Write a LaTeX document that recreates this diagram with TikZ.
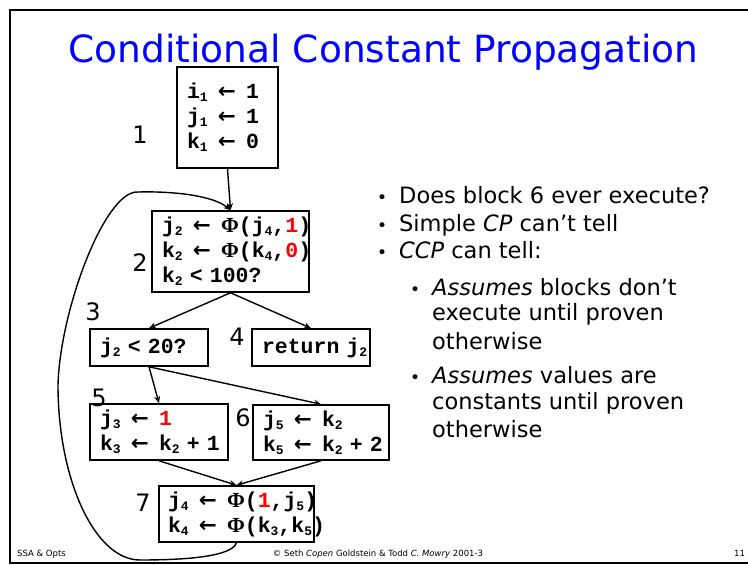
\documentclass[tikz,border=0pt]{standalone}
\usepackage{fontspec}
\setmainfont{DejaVu Sans}
\newfontfamily\codefont{Liberation Mono}[WordSpace={1,0,0}]
\newfontfamily\symfont{DejaVu Sans}
\newfontfamily\greekfont{Liberation Serif}
\usepackage{xcolor}
\usetikzlibrary{arrows.meta, positioning}
\newcommand{\asg}{\kern3pt{\symfont\bfseries ←}\kern3pt}
\newcommand{\Phifn}{{\greekfont\bfseries Φ}}
\newcommand{\ix}[1]{\raisebox{-3pt}{\fontsize{13pt}{13pt}\selectfont #1}}
\newcommand{\cst}[1]{\textcolor{red}{#1}}
\newcommand{\bul}{\llap{\fontsize{17pt}{17pt}\selectfont •\hspace{12pt}}}

\begin{document}
\begin{tikzpicture}[
      x=1pt, y=-1pt,
      blk/.style={draw, line width=1.6pt, inner xsep=10pt, inner ysep=0pt, align=left,
                  font=\codefont\bfseries\fontsize{21.5pt}{25pt}\selectfont},
      num/.style={inner sep=0pt, font=\fontsize{24pt}{24pt}\selectfont},
      txt/.style={anchor=base west, inner sep=0pt, font=\fontsize{22.5pt}{27pt}\selectfont},
      foot/.style={anchor=base, inner sep=0pt, font=\fontsize{8.5pt}{10pt}\selectfont},
      arr/.style={-{Stealth[length=7pt, width=6pt]}, line width=1.4pt}
    ]
    \useasboundingbox (0,0) rectangle (748,565);
    \draw[line width=2pt] (9.5,9.5) rectangle (790,562.5);

    \node[anchor=base, inner sep=0pt, text=blue, font=\fontsize{37.5pt}{40pt}\selectfont]
      (title) at (383.5,62) {Conditional Constant Propagation};

    % basic blocks
    \node[blk, text width=81pt, minimum height=101pt] (entry) at (227.5,117.5)
      {i\ix1~\asg~1\\j\ix1~\asg~1\\k\ix1~\asg~0};
    \node[blk, text width=137pt, minimum height=81pt] (head) at (230.5,251.5)
      {j\ix2~\asg~\Phifn(j\ix4,\cst1)\\k\ix2~\asg~\Phifn(k\ix4,\cst0)\\k\ix2~<~100?};
    \node[blk, text width=98pt, minimum height=37pt] (test) at (149,347.5)
      {j\ix2~<~20?};
    \node[blk, text width=98pt, minimum height=37pt] (ret) at (311,347.5)
      {return~j\ix2};
    \node[blk, text width=118pt, minimum height=56pt] (thn) at (159,432)
      {j\ix3~\asg~\cst1\\k\ix3~\asg~k\ix2~+~1};
    \node[blk, text width=116pt, minimum height=55pt] (els) at (321,432.5)
      {j\ix5~\asg~k\ix2\\k\ix5~\asg~k\ix2~+~2};
    \node[blk, text width=137pt, minimum height=56pt, inner xsep=9pt] (join) at (236.5,514)
      {j\ix4~\asg~\Phifn(\cst1,j\ix5)\\k\ix4~\asg~\Phifn(k\ix3,k\ix5)};

    % block numbers
    \node[num] (n1) at (140,135) {1};
    \node[num] (n2) at (140,263) {2};
    \node[num] (n3) at (93,312) {3};
    \node[num] (n4) at (237,337) {4};
    \node[num] (n5) at (99,398) {5};
    \node[num] (n6) at (243,418) {6};
    \node[num] (n7) at (143,503) {7};

    % control flow
    \draw[arr] (entry.south) -- (head.north);
    \draw[arr] (head.south) -- (test.north);
    \draw[arr] (head.south) -- (ret.north);
    \draw[arr] (test.south) -- (thn.north);
    \draw[arr] (test.south) -- (els.north);
    \draw[arr] (thn.south) -- (join.north);
    \draw[arr] (els.south) -- (join.north);
    \draw[arr] (join.south) .. controls (232,556) and (190,560) .. (140,560)
      .. controls (95,560) and (58,480) .. (58,385)
      .. controls (60,310) and (105,190) .. (138,192)
      .. controls (180,191) and (215,197) .. (head.north);

    % notes
    \node[txt] (q1) at (399,203) {\bul Does block 6 ever execute?};
    \node[txt] (q2) at (399,231) {\bul Simple \textit{CP} can't tell};
    \node[txt] (q3) at (399,258) {\bul \textit{CCP} can tell:};
    \node[txt] (s1) at (432,295) {\bul \textit{Assumes} blocks don't};
    \node[txt] (s1b) at (432,320) {execute until proven};
    \node[txt] (s1c) at (432,349) {otherwise};
    \node[txt] (s2) at (432,383) {\bul \textit{Assumes} values are};
    \node[txt] (s2b) at (432,409) {constants until proven};
    \node[txt] (s2c) at (432,437) {otherwise};

    \node[foot, anchor=base west] (f1) at (17,556) {SSA \& Opts};
    \node[foot] (f2) at (378,556) {© Seth \textit{Copen} Goldstein \& Todd \textit{C. Mowry} 2001-3};
    \node[foot, anchor=base west] (f3) at (734,556) {11};
  \end{tikzpicture}
\end{document}
